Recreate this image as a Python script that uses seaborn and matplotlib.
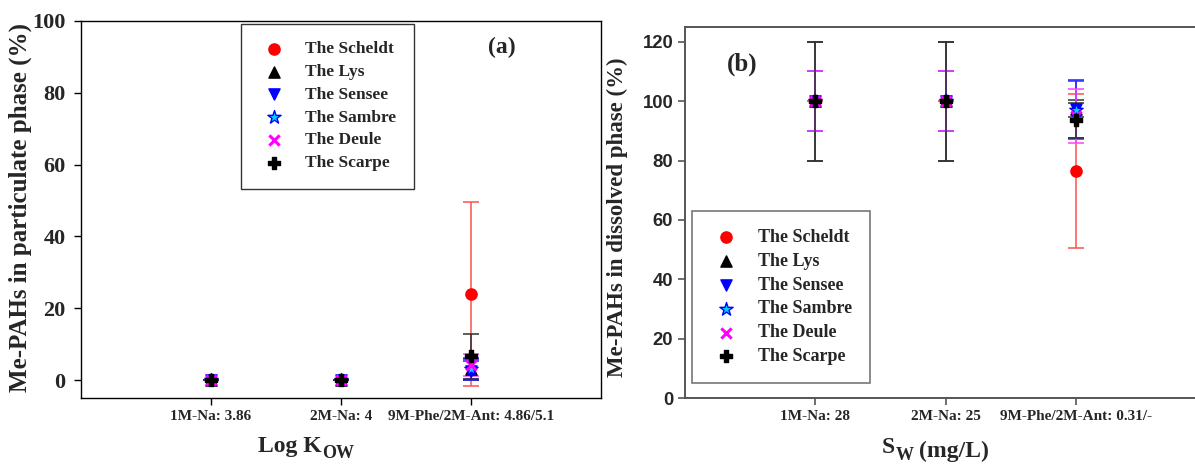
import numpy as np
import pandas as pd
import matplotlib
matplotlib.use('Agg')
import matplotlib.pyplot as plt
import seaborn as sns

# data
rivers = ['The Scheldt', 'The Lys', 'The Sensee', 'The Sambre', 'The Deule', 'The Scarpe']
compounds_a = ['1M-Na: 3.86', '2M-Na: 4', '9M-Phe/2M-Ant: 4.86/5.1']
compounds_b = ['1M-Na: 28', '2M-Na: 25', '9M-Phe/2M-Ant: 0.31/-']

# (a) particulate phase, % per river for the 3 compounds
part_mean = {
    'The Scheldt': [0, 0, 24.0],
    'The Lys':     [0, 0, 3.0],
    'The Sensee':  [0, 0, 2.6],
    'The Sambre':  [0, 0, 3.2],
    'The Deule':   [0, 0, 4.2],
    'The Scarpe':  [0, 0, 6.6],
}
part_err = {
    'The Scheldt': [0, 0, 25.7],
    'The Lys':     [0, 0, 3.0],
    'The Sensee':  [0, 0, 2.6],
    'The Sambre':  [0, 0, 3.0],
    'The Deule':   [0, 0, 3.0],
    'The Scarpe':  [0, 0, 6.3],
}

# (b) dissolved phase
diss_mean = {
    'The Scheldt': [100, 100, 76.5],
    'The Lys':     [100, 100, 97.5],
    'The Sensee':  [100, 100, 97.5],
    'The Sambre':  [100, 100, 97.0],
    'The Deule':   [100, 100, 95.0],
    'The Scarpe':  [100, 100, 93.5],
}
diss_err = {
    'The Scheldt': [0, 0, 25.8],
    'The Lys':     [20, 20, 2.8],
    'The Sensee':  [10, 10, 9.8],
    'The Sambre':  [10, 10, 9.7],
    'The Deule':   [10, 10, 9.2],
    'The Scarpe':  [20, 20, 6.0],
}

# style per river
styles = {
    'The Scheldt': dict(marker='o', color='#ff0000', ec='#ff0000', err='#ff5050'),
    'The Lys':     dict(marker='^', color='black', ec='black', err='#333333'),
    'The Sensee':  dict(marker='v', color='#0000ff', ec='#0000ff', err='#2020ff'),
    'The Sambre':  dict(marker='*', color='#00d0ff', ec='#0000ff', err='#3030ff'),
    'The Deule':   dict(marker='x', color='#ff00ff', ec='#ff00ff', err='#ff40ff'),
    'The Scarpe':  dict(marker='P', color='black', ec='black', err='#303030'),
}

sns.set_style('ticks')
plt.rcParams['font.family'] = ['Liberation Serif', 'DejaVu Serif']
plt.rcParams['font.weight'] = 'bold'
plt.rcParams['axes.labelweight'] = 'bold'

fig = plt.figure(figsize=(11.95, 4.65), dpi=100)
ax1 = fig.add_axes([0.0678, 0.144, 0.435, 0.811])
ax2 = fig.add_axes([0.5732, 0.144, 0.4368, 0.798])


def draw(ax, means, errs):
    pos = np.arange(1, 4)
    for r in rivers:
        st = styles[r]
        ax.errorbar(pos, means[r], yerr=errs[r], fmt='none', ecolor=st['err'],
                    elinewidth=1.1, capsize=6, capthick=1.1, zorder=2)
    for r in rivers:
        st = styles[r]
        df = pd.DataFrame({'x': pos, 'y': means[r]})
        size = {'*': 100, 'P': 80, 'x': 55}.get(st['marker'], 65)
        kw = dict(edgecolor=st['ec'], linewidth=1.0)
        if st['marker'] == 'x':
            kw = dict(linewidth=2.2)
        sns.scatterplot(data=df, x='x', y='y', ax=ax, marker=st['marker'],
                        color=st['color'], s=size, label=r, zorder=3, **kw)


def sub_label(ax, main, sub, xfrac, yfrac):
    # axis label with a near full-size subscript
    ax.set_xlabel('')
    t = ax.text(xfrac, yfrac, main, transform=ax.transAxes, fontsize=17,
                fontweight='bold', ha='left', va='top')
    s = ax.annotate(sub, xy=(1, 0), xycoords=t, xytext=(0.5, -4),
                    textcoords='offset points', fontsize=13, fontweight='bold',
                    ha='left', va='bottom')
    return t, s


draw(ax1, part_mean, part_err)
draw(ax2, diss_mean, diss_err)

# panel (a)
ax1.set_xlim(0, 4)
ax1.set_ylim(-5, 100)
ax1.set_yticks(np.arange(0, 101, 20))
ax1.set_xticks([1, 2, 3])
ax1.set_xticklabels(compounds_a, fontsize=11, fontweight='bold')
for t in ax1.get_yticklabels():
    t.set_fontsize(16)
    t.set_fontweight('bold')
for s in ax1.spines.values():
    s.set_color('black')
    s.set_linewidth(1.0)
ax1.tick_params(length=5, width=1, color='black')
ax1.tick_params(axis='y', pad=6)
sub_label(ax1, 'Log K', 'OW', (258 - 81) / 520, -0.10)
ax1.set_ylabel('Me-PAHs in particulate phase (%)', fontsize=18, fontweight='bold')
ax1.yaxis.set_label_coords(-0.094, 0.505)
ax1.text(0.81, 0.93, '(a)', transform=ax1.transAxes, fontsize=17,
         fontweight='bold', ha='center', va='center')
leg1 = ax1.legend(loc='upper left', bbox_to_anchor=(0.308, 0.992), borderaxespad=0,
                  frameon=True, fancybox=False, edgecolor='black',
                  prop=dict(family='Liberation Serif', weight='bold', size=12.5),
                  handletextpad=0.88, borderpad=1.0, labelspacing=0.38, handlelength=1.8)
leg1.get_frame().set_linewidth(1.0)

# panel (b)
ax2.set_xlim(0, 4)
ax2.set_ylim(0, 125)
ax2.set_yticks(np.arange(0, 121, 20))
ax2.set_xticks([1, 2, 3])
ax2.set_xticklabels(compounds_b, fontsize=11, fontweight='bold')
for t in ax2.get_yticklabels():
    t.set_fontsize(13.3)
    t.set_fontweight('bold')
    t.set_family(['Liberation Sans', 'DejaVu Sans'])
for s in ax2.spines.values():
    s.set_color('#555555')
    s.set_linewidth(1.4)
ax2.tick_params(length=5, width=1.2, color='#555555')
_, w_sub = sub_label(ax2, 'S', 'W', (882 - 685) / 522, -0.105)
ax2.annotate('(mg/L)', xy=(1, 1), xycoords=w_sub, xytext=(4, 4),
             textcoords='offset points', fontsize=17, fontweight='bold',
             ha='left', va='top')
ax2.set_ylabel('Me-PAHs in dissolved phase (%)', fontsize=16.5, fontweight='bold')
ax2.yaxis.set_label_coords(-0.109, 0.488)
ax2.text(0.109, 0.90, '(b)', transform=ax2.transAxes, fontsize=18,
         fontweight='bold', ha='center', va='center')
leg2 = ax2.legend(loc='lower left', bbox_to_anchor=(0.013, 0.04), borderaxespad=0,
                  frameon=True, fancybox=False, edgecolor='#555555',
                  prop=dict(family='Liberation Serif', weight='bold', size=13),
                  handletextpad=0.88, borderpad=1.0, labelspacing=0.38, handlelength=1.8)
leg2.get_frame().set_linewidth(1.2)

fig.savefig('out.png', dpi=100)
